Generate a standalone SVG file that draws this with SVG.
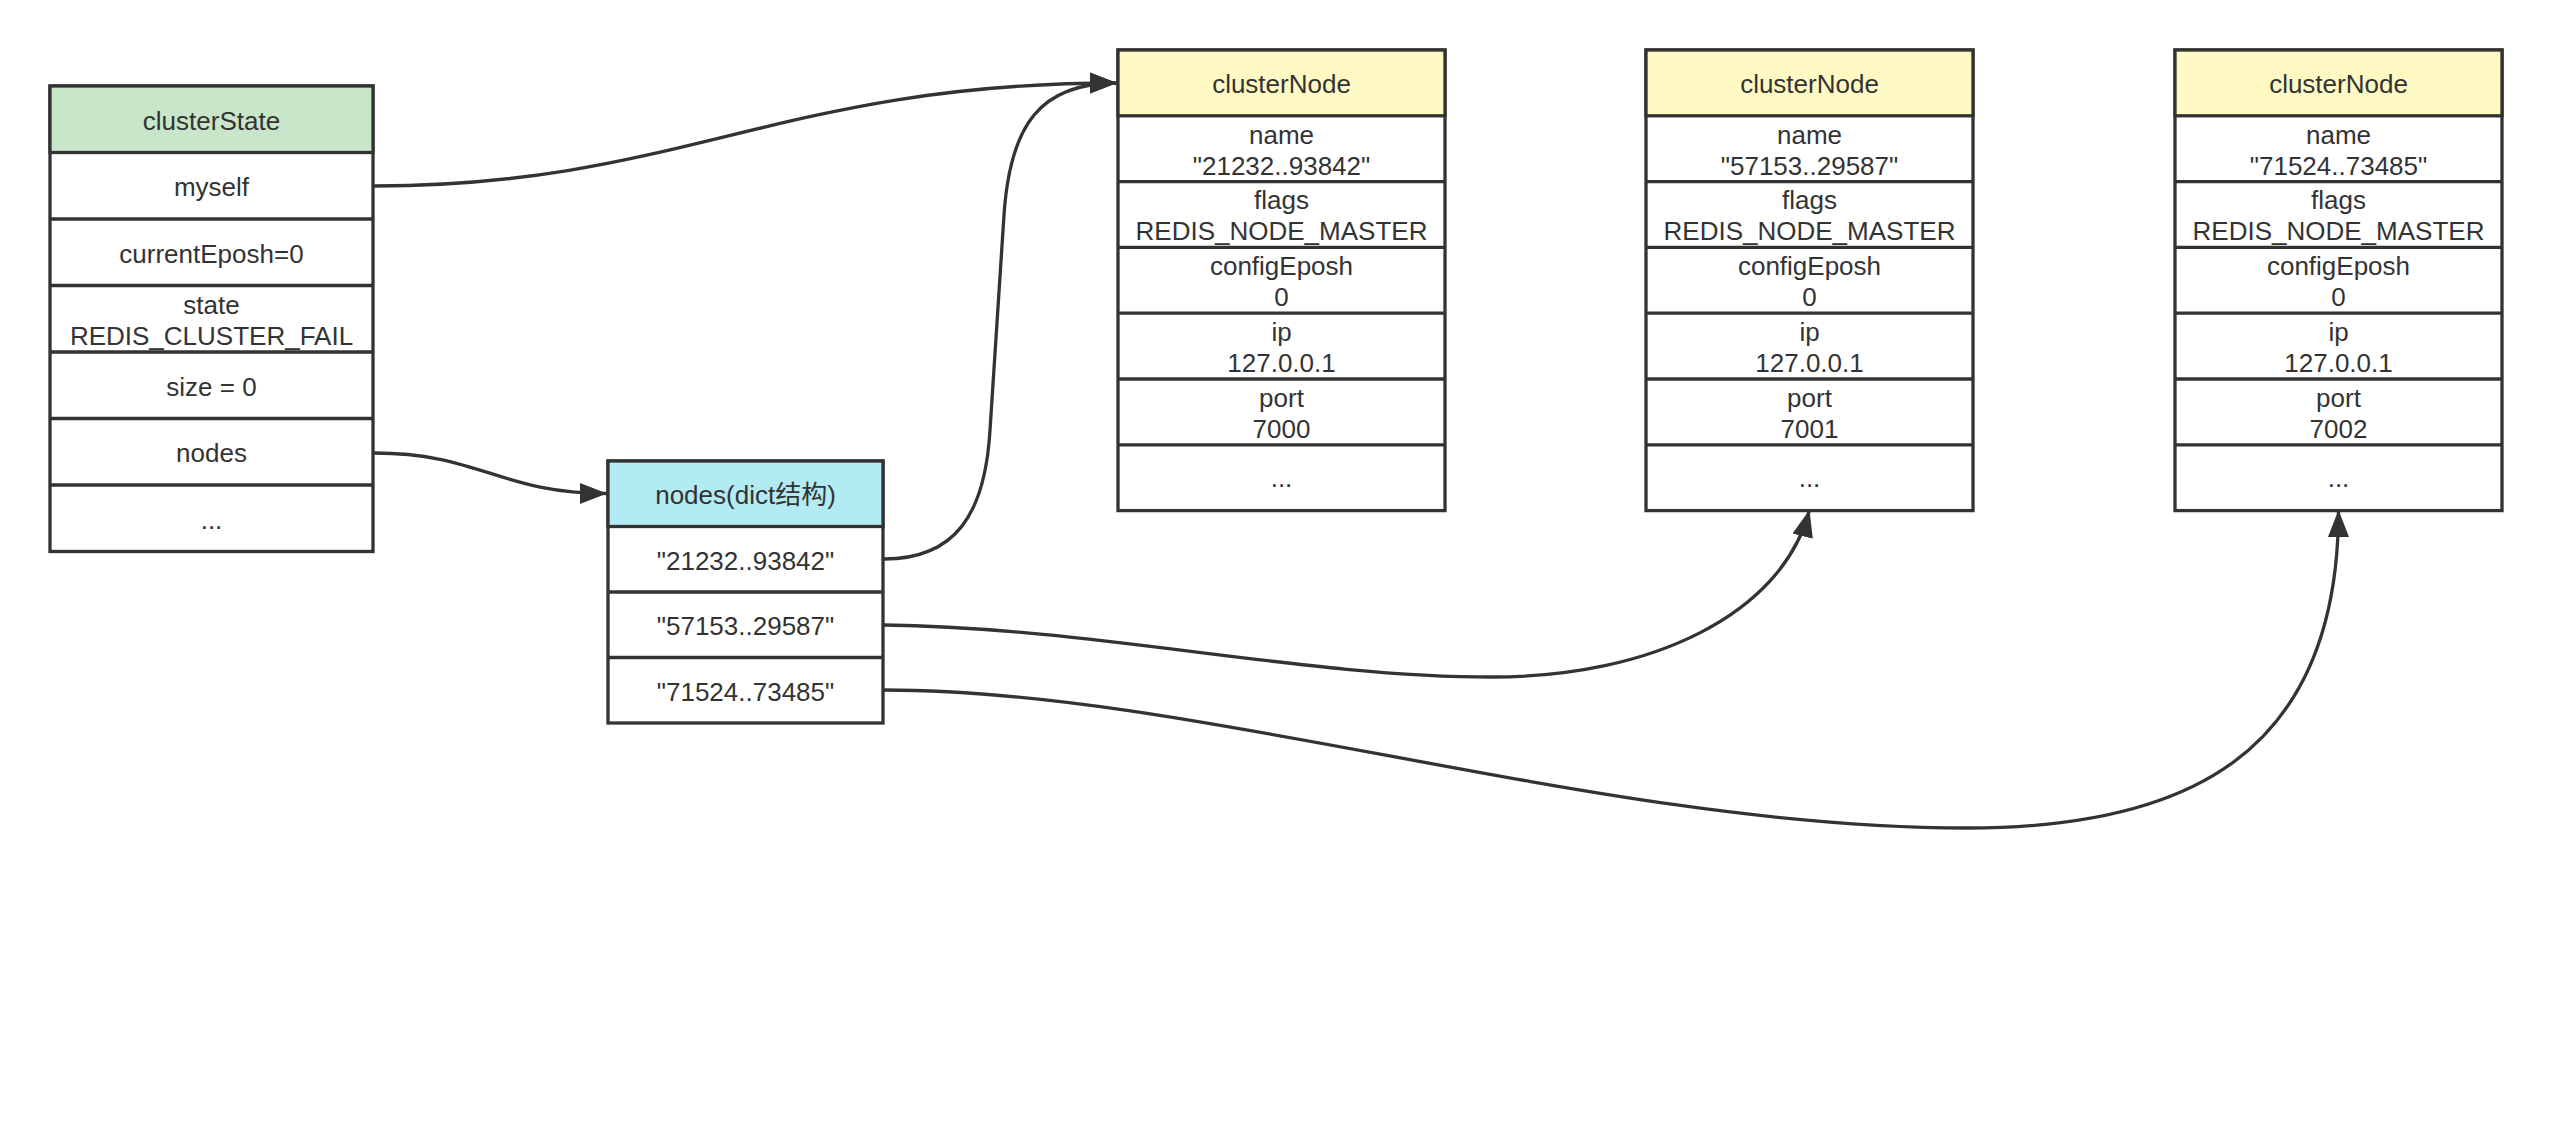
<svg xmlns="http://www.w3.org/2000/svg" width="2553" height="1148" viewBox="0 0 2553 1148">
<style>
  .box{fill:#ffffff;stroke:#333333;stroke-width:3.3}
  .sep{stroke:#333333;stroke-width:3.3}
  .hg{fill:#c8e6c9;stroke:#333333;stroke-width:3.3}
  .hc{fill:#b2ebf2;stroke:#333333;stroke-width:3.3}
  .hy{fill:#fff9c4;stroke:#333333;stroke-width:3.3}
  .t{font-family:"Liberation Sans",Arial,"Noto Sans CJK SC",sans-serif;font-size:26px;fill:#333333;text-anchor:middle}
  .e{fill:none;stroke:#333333;stroke-width:3.3}
</style>
<defs>
  <marker id="arr" markerUnits="userSpaceOnUse" markerWidth="28" markerHeight="22" viewBox="0 0 28 22" refX="27" refY="11" orient="auto">
    <path d="M0,0.5 L27,11 L0,21.5 z" fill="#333333"/>
  </marker>
</defs>
<rect width="2553" height="1148" fill="#ffffff"/>

<g id="clusterState">
  <rect class="box" x="50" y="86" width="323" height="465.5"/>
  <rect class="hg" x="50" y="86" width="323" height="66.5"/>
  <line class="sep" x1="50" y1="219" x2="373" y2="219"/>
  <line class="sep" x1="50" y1="285.5" x2="373" y2="285.5"/>
  <line class="sep" x1="50" y1="352" x2="373" y2="352"/>
  <line class="sep" x1="50" y1="418.5" x2="373" y2="418.5"/>
  <line class="sep" x1="50" y1="485" x2="373" y2="485"/>
  <text class="t" x="211.5" y="129.5">clusterState</text>
  <text class="t" x="211.5" y="196">myself</text>
  <text class="t" x="211.5" y="262.5">currentEposh=0</text>
  <text class="t" x="211.5" y="313.5">state</text>
  <text class="t" x="211.5" y="344.5">REDIS_CLUSTER_FAIL</text>
  <text class="t" x="211.5" y="395.5">size = 0</text>
  <text class="t" x="211.5" y="462">nodes</text>
  <text class="t" x="211.5" y="529">...</text>
</g>

<g id="dict">
  <rect class="box" x="608" y="461" width="275" height="262"/>
  <rect class="hc" x="608" y="461" width="275" height="65.5"/>
  <line class="sep" x1="608" y1="592" x2="883" y2="592"/>
  <line class="sep" x1="608" y1="657.5" x2="883" y2="657.5"/>
  <text class="t" x="745.5" y="504">nodes(dict结构)</text>
  <text class="t" x="745.5" y="569.5">"21232..93842"</text>
  <text class="t" x="745.5" y="635">"57153..29587"</text>
  <text class="t" x="745.5" y="700.5">"71524..73485"</text>
</g>

<g id="clusterNode1">
  <rect class="box" x="1118" y="50" width="327" height="460.6"/>
  <rect class="hy" x="1118" y="50" width="327" height="65.8"/>
  <line class="sep" x1="1118" y1="181.6" x2="1445" y2="181.6"/>
  <line class="sep" x1="1118" y1="247.4" x2="1445" y2="247.4"/>
  <line class="sep" x1="1118" y1="313.2" x2="1445" y2="313.2"/>
  <line class="sep" x1="1118" y1="379" x2="1445" y2="379"/>
  <line class="sep" x1="1118" y1="444.8" x2="1445" y2="444.8"/>
  <text class="t" x="1281.5" y="93">clusterNode</text>
  <text class="t" x="1281.5" y="143.5">name</text>
  <text class="t" x="1281.5" y="174.5">"21232..93842"</text>
  <text class="t" x="1281.5" y="209.3">flags</text>
  <text class="t" x="1281.5" y="240.3">REDIS_NODE_MASTER</text>
  <text class="t" x="1281.5" y="275">configEposh</text>
  <text class="t" x="1281.5" y="306">0</text>
  <text class="t" x="1281.5" y="341">ip</text>
  <text class="t" x="1281.5" y="372">127.0.0.1</text>
  <text class="t" x="1281.5" y="406.7">port</text>
  <text class="t" x="1281.5" y="437.7">7000</text>
  <text class="t" x="1281.5" y="487">...</text>
</g>

<g id="clusterNode2">
  <rect class="box" x="1646" y="50" width="327" height="460.6"/>
  <rect class="hy" x="1646" y="50" width="327" height="65.8"/>
  <line class="sep" x1="1646" y1="181.6" x2="1973" y2="181.6"/>
  <line class="sep" x1="1646" y1="247.4" x2="1973" y2="247.4"/>
  <line class="sep" x1="1646" y1="313.2" x2="1973" y2="313.2"/>
  <line class="sep" x1="1646" y1="379" x2="1973" y2="379"/>
  <line class="sep" x1="1646" y1="444.8" x2="1973" y2="444.8"/>
  <text class="t" x="1809.5" y="93">clusterNode</text>
  <text class="t" x="1809.5" y="143.5">name</text>
  <text class="t" x="1809.5" y="174.5">"57153..29587"</text>
  <text class="t" x="1809.5" y="209.3">flags</text>
  <text class="t" x="1809.5" y="240.3">REDIS_NODE_MASTER</text>
  <text class="t" x="1809.5" y="275">configEposh</text>
  <text class="t" x="1809.5" y="306">0</text>
  <text class="t" x="1809.5" y="341">ip</text>
  <text class="t" x="1809.5" y="372">127.0.0.1</text>
  <text class="t" x="1809.5" y="406.7">port</text>
  <text class="t" x="1809.5" y="437.7">7001</text>
  <text class="t" x="1809.5" y="487">...</text>
</g>

<g id="clusterNode3">
  <rect class="box" x="2175" y="50" width="327" height="460.6"/>
  <rect class="hy" x="2175" y="50" width="327" height="65.8"/>
  <line class="sep" x1="2175" y1="181.6" x2="2502" y2="181.6"/>
  <line class="sep" x1="2175" y1="247.4" x2="2502" y2="247.4"/>
  <line class="sep" x1="2175" y1="313.2" x2="2502" y2="313.2"/>
  <line class="sep" x1="2175" y1="379" x2="2502" y2="379"/>
  <line class="sep" x1="2175" y1="444.8" x2="2502" y2="444.8"/>
  <text class="t" x="2338.5" y="93">clusterNode</text>
  <text class="t" x="2338.5" y="143.5">name</text>
  <text class="t" x="2338.5" y="174.5">"71524..73485"</text>
  <text class="t" x="2338.5" y="209.3">flags</text>
  <text class="t" x="2338.5" y="240.3">REDIS_NODE_MASTER</text>
  <text class="t" x="2338.5" y="275">configEposh</text>
  <text class="t" x="2338.5" y="306">0</text>
  <text class="t" x="2338.5" y="341">ip</text>
  <text class="t" x="2338.5" y="372">127.0.0.1</text>
  <text class="t" x="2338.5" y="406.7">port</text>
  <text class="t" x="2338.5" y="437.7">7002</text>
  <text class="t" x="2338.5" y="487">...</text>
</g>

<g id="connectors">
  <path class="e" marker-end="url(#arr)" d="M374,186 C680,186 780,83 1117,83"/>
  <path class="e" marker-end="url(#arr)" d="M374,453 C480,453 500,493.5 607,493.5"/>
  <path class="e" marker-end="url(#arr)" d="M884,559 C955,559 985,515 990,430 L1004,215 C1010,125 1040,83 1117,83"/>
  <path class="e" marker-end="url(#arr)" d="M884,625 C1100,628 1300,677 1493,677 C1650,677 1782,615 1809.5,510"/>
  <path class="e" marker-end="url(#arr)" d="M884,690 C1200,690 1600,828 1967,828 C2180,828 2338.5,760 2338.5,510"/>
</g>
</svg>
